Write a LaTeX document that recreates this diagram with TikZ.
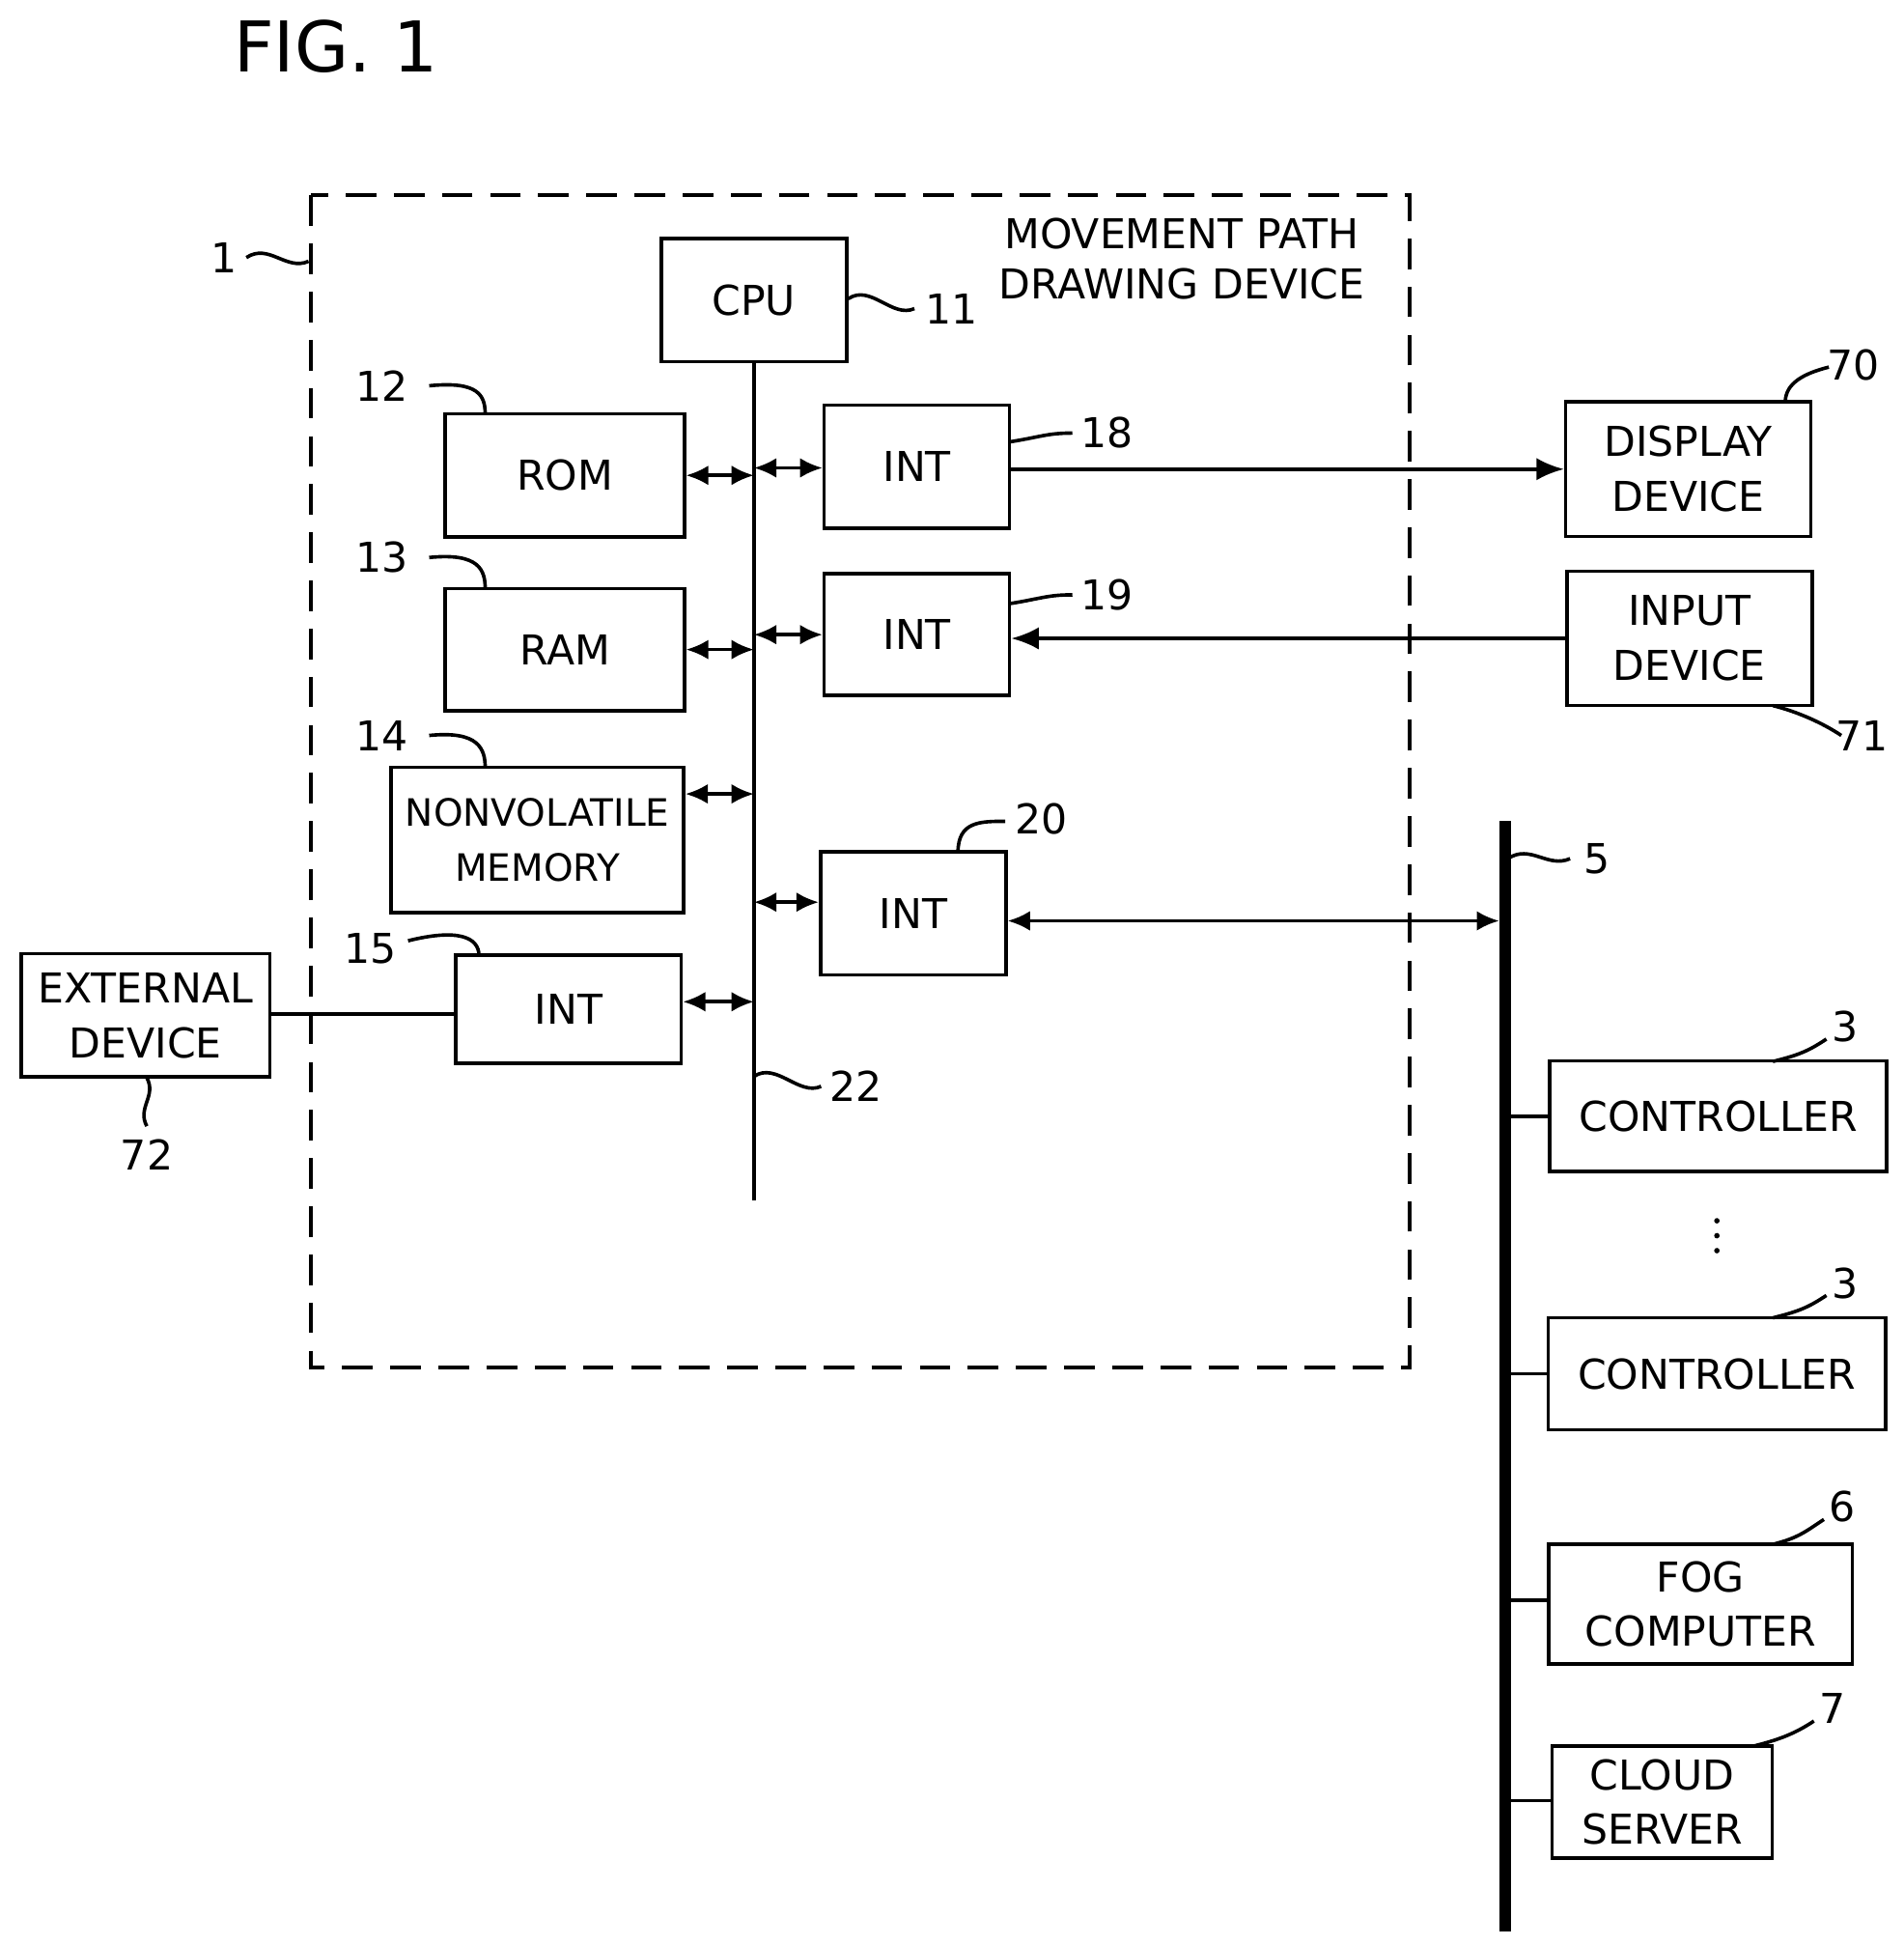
\documentclass[tikz,border=0pt]{standalone}
\usepackage{fontspec}
\setmainfont{DejaVu Sans}
\usetikzlibrary{arrows.meta}
\tikzset{
  blk/.style={draw, thick, rectangle, align=center, inner sep=0pt, font=\fontsize{9.4}{12.5}\selectfont},
  lbl/.style={font=\fontsize{9.4}{11.5}\selectfont},
  bi/.style={{Latex[length=1.8mm,width=1.6mm]}-{Latex[length=1.8mm,width=1.6mm]}, thick},
  uni/.style={-{Latex[length=2.2mm,width=1.8mm]}, thick},
  leader/.style={thick}
}
\newcommand{\bx}[6]{\node[blk, minimum width=#4*0.01cm, minimum height=#5*0.01cm] (#1) at (#2,#3) {#6};}
\begin{document}
\begin{tikzpicture}[x=0.01cm,y=-0.01cm]
\useasboundingbox (0,0) rectangle (1530,1563);
\node[font=\fontsize{16}{19}\selectfont] (fig) at (270,37) {FIG. 1};

% device frame
\draw[thick, dash pattern=on 7pt off 4pt] (250,157) rectangle (1133,1099);
\node[lbl, align=center] (title) at (950,208) {MOVEMENT PATH\\DRAWING DEVICE};
\node[lbl] (n1) at (180,207) {1};
\draw[leader] (198,207) .. controls +(18,-12) and +(-18,8) .. (248,210);

% blocks
\bx{cpu}{606}{241}{149}{99}{CPU}
\bx{rom}{454}{382}{192}{99}{ROM}
\bx{ram}{454}{522}{192}{98}{RAM}
\bx{nvm}{432}{675}{235}{117}{\fontsize{8.6}{10.5}\selectfont NONVOLATILE\\\fontsize{8.6}{10.5}\selectfont MEMORY}
\bx{int15}{457}{811}{181}{87}{INT}
\bx{int18}{737}{375}{149}{99}{INT}
\bx{int19}{737}{510}{149}{98}{INT}
\bx{int20}{734}{734}{149}{99}{INT}
\bx{disp}{1357}{377}{197}{108}{DISPLAY\\DEVICE}
\bx{inp}{1358}{513}{197}{108}{INPUT\\DEVICE}
\bx{ext}{117}{816}{200}{99}{EXTERNAL\\DEVICE}
\bx{ctl1}{1381}{897}{271}{89}{CONTROLLER}
\bx{ctl2}{1380}{1104}{271}{90}{CONTROLLER}
\bx{fog}{1367}{1289}{244}{96}{FOG\\COMPUTER}
\bx{cloud}{1336}{1448}{177}{90}{CLOUD\\SERVER}

% internal bus
\coordinate (b1) at (606,965);
\draw[thick] (cpu.south) -- (b1);
\node[lbl] (n22) at (688,873) {22};
\draw[leader] (606,865) .. controls +(18,-12) and +(-18,8) .. (660,873);

\draw[bi] (rom.east |- 0,382) -- (606,382);
\draw[bi] (606,376) -- (int18.west |- 0,376);
\draw[bi] (ram.east |- 0,522) -- (606,522);
\draw[bi] (606,510) -- (int19.west |- 0,510);
\draw[bi] (nvm.east |- 0,638) -- (606,638);
\draw[bi] (606,725) -- (int20.west |- 0,725);
\draw[bi] (int15.east |- 0,805) -- (606,805);

% network
\coordinate (net0) at (1210,660);
\coordinate (net1) at (1210,1552);
\draw[line width=2.5pt] (net0) -- (net1);
\node[lbl] (n5) at (1284,690) {5};
\draw[leader] (1212,690) .. controls +(18,-12) and +(-18,8) .. (1262,690);

\draw[uni] (int18.east |- 0,377) -- (disp.west |- 0,377);
\draw[uni] (inp.west |- 0,513) -- (int19.east |- 0,513);
\draw[bi] (int20.east |- 0,740) -- (1205,740);
\draw[thick] (ext.east |- 0,815) -- (int15.west |- 0,815);
\draw[thick] (1210,897) -- (ctl1.west);
\draw[thick] (1210,1104) -- (ctl2.west);
\draw[thick] (1210,1286) -- (fog.west |- 0,1286);
\draw[thick] (1210,1447) -- (cloud.west |- 0,1447);
\foreach \yy in {981,993,1005}
  \fill (1380,\yy) circle (2.2);

% reference numerals
\node[lbl] (n11) at (765,248) {11};
\draw[leader] (cpu.east |- 0,240) .. controls +(18,-12) and +(-18,8) .. (735,248);
\node[lbl] (n12) at (307,310) {12};
\draw[leader] (345,310) .. controls +(40,-4) and +(0,-15) .. (390,333);
\node[lbl] (n13) at (307,448) {13};
\draw[leader] (345,448) .. controls +(40,-4) and +(0,-15) .. (390,473);
\node[lbl] (n14) at (307,591) {14};
\draw[leader] (345,591) .. controls +(40,-4) and +(0,-15) .. (390,617);
\node[lbl] (n15) at (298,762) {15};
\draw[leader] (328,756) .. controls +(40,-10) and +(0,-15) .. (385,768);
\node[lbl] (n18) at (890,348) {18};
\draw[leader] (812,355) .. controls +(25,-4) and +(-20,0) .. (862,348);
\node[lbl] (n19) at (890,478) {19};
\draw[leader] (812,485) .. controls +(25,-4) and +(-20,0) .. (862,478);
\node[lbl] (n20) at (837,658) {20};
\draw[leader] (770,685) .. controls +(0,-25) and +(-20,0) .. (808,660);
\node[lbl] (n70) at (1490,293) {70};
\draw[leader] (1435,323) .. controls +(0,-15) and +(-20,5) .. (1470,295);
\node[lbl] (n71) at (1497,591) {71};
\draw[leader] (1425,567) .. controls +(20,5) and +(-15,-10) .. (1480,591);
\node[lbl] (n72) at (118,928) {72};
\draw[leader] (118,866) .. controls +(8,15) and +(-8,-15) .. (118,905);
\node[lbl] (n3a) at (1483,825) {3};
\draw[leader] (1425,853) .. controls +(20,-5) and +(-15,10) .. (1468,835);
\node[lbl] (n3b) at (1483,1031) {3};
\draw[leader] (1425,1059) .. controls +(20,-5) and +(-15,10) .. (1468,1041);
\node[lbl] (n6) at (1481,1211) {6};
\draw[leader] (1425,1241) .. controls +(20,-5) and +(-15,10) .. (1466,1221);
\node[lbl] (n7) at (1473,1373) {7};
\draw[leader] (1410,1403) .. controls +(20,-5) and +(-15,10) .. (1458,1383);
\end{tikzpicture}
\end{document}
